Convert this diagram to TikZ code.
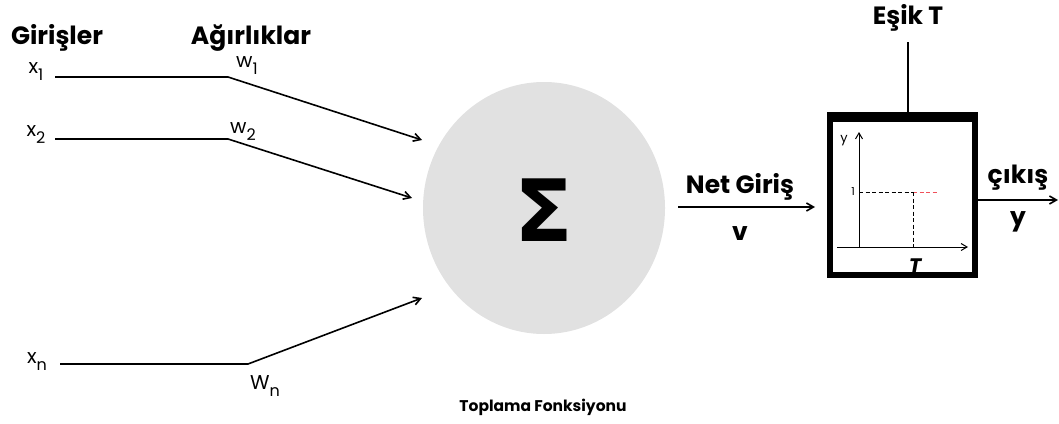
\documentclass[tikz,border=0pt]{standalone}
\usepackage{fontspec}
\setmainfont{Poppins}
\newfontfamily\symfont{DejaVu Sans}
\usetikzlibrary{arrows.meta,shapes.geometric}
\definecolor{sumgray}{HTML}{E1E1E1}
\definecolor{stepred}{HTML}{F0505A}
\tikzset{
  lbl/.style={inner sep=0pt, font=\fontsize{20}{20}\selectfont},
  head/.style={inner sep=0pt, font=\fontsize{25}{25}\selectfont\bfseries},
  wire/.style={line width=1.6pt},
  arr/.style={wire, -{Straight Barb[length=7pt,width=8pt]}},
  thin arr/.style={line width=1pt, -{Straight Barb[length=6pt,width=7pt]}},
  dsh/.style={line width=0.9pt, dash pattern=on 4pt off 2.5pt},
}
\newcommand{\sub}[2]{#1\raisebox{-7pt}{\fontsize{16}{16}\selectfont #2}}
\begin{document}
\begin{tikzpicture}[x=1pt,y=-1pt]
\useasboundingbox (0,0) rectangle (1059,423);

% summing unit
\node[ellipse, fill=sumgray, minimum width=242pt, minimum height=252pt, inner sep=0pt] (sum) at (544,208) {};
\node[inner sep=0pt, font=\symfont\bfseries\fontsize{86}{86}\selectfont] (sigma) at (544,210) {Σ};
\node[inner sep=0pt, font=\fontsize{15.5}{15.5}\selectfont\bfseries] (sumlbl) at (543,407) {Toplama Fonksiyonu};

% headings
\node[head] (inh) at (57,38) {Girişler};
\node[head] (wh) at (251,38) {Ağırlıklar};

% inputs
\node[lbl] (x1) at (36,72) {\sub{x}{1}};
\node[lbl] (x2) at (36,135) {\sub{x}{2}};
\node[lbl] (xn) at (37,362) {\sub{x}{n}};
\coordinate (s1) at (55,77);
\coordinate (s2) at (55,139);
\coordinate (sn) at (60,364);
\coordinate (b1) at (228,77);
\coordinate (b2) at (228,139);
\coordinate (bn) at (248,364);
\coordinate (t1) at (422,140);
\coordinate (t2) at (412,198);
\coordinate (tn) at (422,298);
\draw[arr] (s1) -- (b1) -- (t1);
\draw[arr] (s2) -- (b2) -- (t2);
\draw[arr] (sn) -- (bn) -- (tn);

% weights
\node[lbl] (w1) at (247,66) {\sub{w}{1}};
\node[lbl] (w2) at (243,132) {\sub{w}{2}};
\node[lbl] (wn) at (265,386) {\sub{W}{n}};

% net input
\coordinate (ns) at (678,207);
\coordinate (ne) at (815,207);
\draw[arr] (ns) -- (ne);
\node[head] (netlbl) at (740,187) {Net Giriş};
\node[head] (vlbl) at (740,234) {v};

% threshold unit
\draw[line width=5.5pt] (830,117) rectangle (975,275);
\fill (827.25,112) rectangle (977.75,122);
\coordinate (boxtop) at (908,112);
\coordinate (thtop) at (908,42);
\draw[line width=1.4pt] (thtop) -- (boxtop);
\node[head] (thlbl) at (908,18) {Eşik T};

% step function plot
\coordinate (o) at (859,247);
\coordinate (ytop) at (859,132);
\coordinate (xl) at (837,247);
\coordinate (xr) at (968,247);
\draw[thin arr] (o) -- (ytop);
\draw[thin arr] (xl) -- (xr);
\node[inner sep=0pt, font=\fontsize{13}{13}\selectfont] (ylbl) at (844,141) {y};
\node[inner sep=0pt, font=\fontsize{11}{11}\selectfont] (one) at (853,192) {1};
\coordinate (d0) at (859,192);
\coordinate (dT) at (913,192);
\coordinate (dE) at (938,192);
\coordinate (Tb) at (913,247);
\draw[dsh] (d0) -- (dT);
\draw[dsh, stepred] (dT) -- (dE);
\draw[dsh] (dT) -- (Tb);
\node[inner sep=0pt, font=\fontsize{21}{21}\selectfont\bfseries\itshape] (Tlbl) at (915,266) {T};

% output
\coordinate (os) at (978,200);
\coordinate (oe) at (1058,200);
\draw[arr] (os) -- (oe);
\node[head] (outlbl) at (1018,178) {çıkış};
\node[head] (ylbl2) at (1018,222) {y};
\end{tikzpicture}
\end{document}
